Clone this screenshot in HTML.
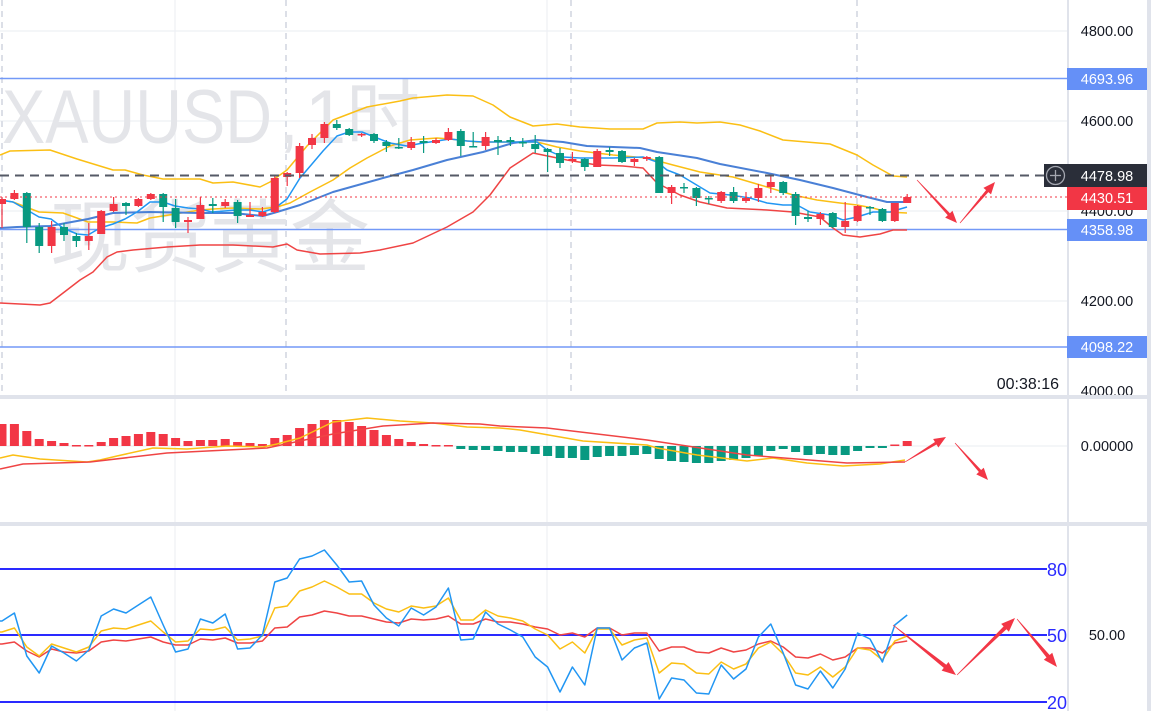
<!DOCTYPE html>
<html><head><meta charset="utf-8"><style>
html,body{margin:0;padding:0;background:#fff;}
svg{display:block;font-family:"Liberation Sans","Noto Sans CJK SC",sans-serif;}
</style></head><body>
<svg width="1151" height="711" viewBox="0 0 1151 711" xmlns="http://www.w3.org/2000/svg">
<rect x="0" y="0" width="1151" height="711" fill="#ffffff"/>
<!-- grid -->
<g stroke="#eef0f4" stroke-width="1.2">
<line x1="0" y1="31" x2="1067" y2="31"/><line x1="0" y1="121" x2="1067" y2="121"/>
<line x1="0" y1="211" x2="1067" y2="211"/><line x1="0" y1="301" x2="1067" y2="301"/>
<line x1="0" y1="446" x2="1067" y2="446"/>
<line x1="175" y1="0" x2="175" y2="711"/><line x1="547" y1="0" x2="547" y2="711"/>
</g>
<g stroke="#dcdfe7" stroke-width="2" stroke-dasharray="6 5">
<line x1="2" y1="0" x2="2" y2="395"/><line x1="286" y1="0" x2="286" y2="395"/>
<line x1="571" y1="0" x2="571" y2="395"/><line x1="857" y1="0" x2="857" y2="395"/>
</g>
<!-- watermark -->
<g fill="#e4e5e9">
<text x="2" y="143" font-size="76" textLength="270" lengthAdjust="spacingAndGlyphs">XAUUSD</text>
<text x="278" y="143" font-size="76">,</text>
<text x="305" y="143" font-size="76" textLength="115" lengthAdjust="spacingAndGlyphs">1时</text>
<text x="50" y="266" font-size="80" textLength="320" lengthAdjust="spacingAndGlyphs">现货黄金</text>
</g>
<!-- horizontal level lines -->
<g stroke="#7399f7" stroke-width="1.5">
<line x1="0" y1="78.5" x2="1067" y2="78.5"/>
<line x1="0" y1="229.5" x2="1067" y2="229.5"/>
<line x1="0" y1="347" x2="1067" y2="347"/>
</g>
<!-- indicator lines main -->
<g fill="none" stroke-width="1.5" stroke-linejoin="round">
<polyline stroke="#fbbf14" points="0,155 10,151 50,150 77,159 113,170 125,170 143,175 163,179 200,179 213,183 233,182 260,187 270,182 287,170 307,146 333,120 367,107 400,101 413,98 447,95 473,96 493,105 510,117 533,126 557,124 580,127 610,129 643,129 657,123 680,122 697,123 720,122 740,125 760,131 783,140 830,144 857,155 873,165 893,176 907,177"/>
<polyline stroke="#fbbf14" points="0,200 13,202 26,207 39,212 63,213 77,218 88,222 113,222 137,223 150,218 175,214 200,210 213,209 233,208 260,209 277,207 290,203 310,192 333,180 350,168 367,158 390,146 410,140 437,138 450,139 477,142 500,142 513,142 537,142 557,147 580,151 613,155 647,158 673,165 700,172 733,177 767,187 793,195 817,200 840,203 857,205 873,208 887,212 907,213"/>
<polyline stroke="#4a80d6" stroke-width="2" points="0,228 17,227 50,226 88,219 113,213 150,212 200,213 233,213 263,216 277,212 300,205 333,192 383,178 413,170 447,160 483,152 513,143 537,140 563,142 587,146 640,148 657,152 697,158 720,164 767,173 800,180 833,188 867,197 887,202 907,202"/>
<polyline stroke="#2196f3" points="0,200 13,202 27,210 39,217 51,219 63,228 77,234 88,235 100,228 113,224 125,219 137,212 150,202 163,202 175,206 188,208 200,209 212,212 225,211 237,210 250,210 263,212 275,208 287,199 300,178 312,164 323,151 337,136 349,132 362,132 377,138 390,143 407,146 423,143 437,141 450,139 467,141 483,142 513,142 537,142 547,150 563,157 580,158 613,158 643,157 657,162 667,170 680,175 700,187 710,193 730,195 750,198 767,203 783,205 797,205 810,212 830,215 843,220 857,217 873,212 890,212 907,207"/>
<polyline stroke="#ef4444" points="0,303 40,305 50,303 67,290 80,280 93,272 107,257 117,252 133,250 167,247 200,245 233,245 273,247 287,244 297,250 320,254 360,253 380,250 413,243 447,227 473,212 490,195 510,168 533,153 567,160 597,165 623,166 643,168 657,183 680,195 700,202 727,208 767,210 793,212 820,217 833,228 843,235 860,237 880,234 893,230 907,230"/>
</g>
<!-- red candles -->
<g fill="#f23645">
<rect x="1.4" y="197" width="1.2" height="31"/><rect x="-2" y="199" width="8" height="5"/>
<rect x="13.8" y="190" width="1.2" height="10"/><rect x="10.4" y="193" width="8" height="6"/>
<rect x="51" y="221" width="1.2" height="32"/><rect x="47.6" y="227" width="8" height="19"/>
<rect x="88.2" y="223" width="1.2" height="27"/><rect x="84.8" y="236" width="8" height="5"/>
<rect x="100.6" y="210" width="1.2" height="24"/><rect x="97.2" y="211" width="8" height="23"/>
<rect x="113" y="197" width="1.2" height="15"/><rect x="109.6" y="204" width="8" height="7"/>
<rect x="137.8" y="198" width="1.2" height="9"/><rect x="134.4" y="199" width="8" height="7"/>
<rect x="150.2" y="193" width="1.2" height="7"/><rect x="146.8" y="194" width="8" height="5"/>
<rect x="187.4" y="217" width="1.2" height="16"/><rect x="184" y="220" width="8" height="2"/>
<rect x="199.8" y="197" width="1.2" height="22"/><rect x="196.4" y="205" width="8" height="14"/>
<rect x="224.6" y="199" width="1.2" height="9"/><rect x="221.2" y="202" width="8" height="4"/>
<rect x="249.4" y="202" width="1.2" height="15"/><rect x="246" y="215" width="8" height="2"/>
<rect x="261.8" y="207" width="1.2" height="10"/><rect x="258.4" y="212" width="8" height="4"/>
<rect x="274.2" y="175" width="1.2" height="38"/><rect x="270.8" y="178" width="8" height="34"/>
<rect x="286.6" y="172" width="1.2" height="14"/><rect x="283.2" y="173" width="8" height="4"/>
<rect x="299" y="143" width="1.2" height="35"/><rect x="295.6" y="146" width="8" height="27"/>
<rect x="311.4" y="134" width="1.2" height="15"/><rect x="308" y="138" width="8" height="7"/>
<rect x="323.8" y="122" width="1.2" height="21"/><rect x="320.4" y="124" width="8" height="14"/>
<rect x="361" y="133" width="1.2" height="4"/><rect x="357.6" y="134" width="8" height="1.5"/>
<rect x="410.6" y="137" width="1.2" height="13"/><rect x="407.2" y="142" width="8" height="6"/>
<rect x="435.4" y="138" width="1.2" height="6"/><rect x="432" y="140" width="8" height="3"/>
<rect x="447.8" y="128" width="1.2" height="13"/><rect x="444.4" y="132" width="8" height="8"/>
<rect x="485" y="132" width="1.2" height="18"/><rect x="481.6" y="137" width="8" height="9"/>
<rect x="571.8" y="152" width="1.2" height="11"/><rect x="568.4" y="159" width="8" height="2"/>
<rect x="596.6" y="149" width="1.2" height="18"/><rect x="593.2" y="151" width="8" height="16"/>
<rect x="633.8" y="158" width="1.2" height="8"/><rect x="630.4" y="159" width="8" height="3"/>
<rect x="646.2" y="156" width="1.2" height="5"/><rect x="642.8" y="157" width="8" height="2"/>
<rect x="671" y="185" width="1.2" height="19"/><rect x="667.6" y="187" width="8" height="6"/>
<rect x="720.6" y="191" width="1.2" height="12"/><rect x="717.2" y="192" width="8" height="9"/>
<rect x="745.4" y="192" width="1.2" height="11"/><rect x="742" y="198" width="8" height="3"/>
<rect x="757.8" y="184" width="1.2" height="18"/><rect x="754.4" y="188" width="8" height="10"/>
<rect x="770.2" y="176" width="1.2" height="17"/><rect x="766.8" y="182" width="8" height="5"/>
<rect x="819.8" y="212" width="1.2" height="13"/><rect x="816.4" y="214" width="8" height="5"/>
<rect x="844.6" y="202" width="1.2" height="31"/><rect x="841.2" y="221" width="8" height="6"/>
<rect x="857" y="205" width="1.2" height="17"/><rect x="853.6" y="206" width="8" height="15"/>
<rect x="894.2" y="203" width="1.2" height="19"/><rect x="890.8" y="203" width="8" height="18"/>
<rect x="906.6" y="194" width="1.2" height="9"/><rect x="903.2" y="197" width="8" height="6"/>
</g>
<!-- green candles -->
<g fill="#089981">
<rect x="26.2" y="192" width="1.2" height="51"/><rect x="22.8" y="193" width="8" height="34"/>
<rect x="38.6" y="223" width="1.2" height="30"/><rect x="35.2" y="227" width="8" height="19"/>
<rect x="63.4" y="223" width="1.2" height="18"/><rect x="60" y="227" width="8" height="8"/>
<rect x="75.8" y="233" width="1.2" height="14"/><rect x="72.4" y="236" width="8" height="5"/>
<rect x="125.4" y="202" width="1.2" height="13"/><rect x="122" y="203" width="8" height="3"/>
<rect x="162.6" y="193" width="1.2" height="29"/><rect x="159.2" y="194" width="8" height="13"/>
<rect x="175" y="199" width="1.2" height="29"/><rect x="171.6" y="208" width="8" height="14"/>
<rect x="212.2" y="198" width="1.2" height="15"/><rect x="208.8" y="204" width="8" height="2"/>
<rect x="237" y="200" width="1.2" height="23"/><rect x="233.6" y="202" width="8" height="14"/>
<rect x="336.2" y="120" width="1.2" height="10"/><rect x="332.8" y="124" width="8" height="4"/>
<rect x="348.6" y="128" width="1.2" height="8"/><rect x="345.2" y="129" width="8" height="6"/>
<rect x="373.4" y="133" width="1.2" height="10"/><rect x="370" y="134" width="8" height="7"/>
<rect x="385.8" y="140" width="1.2" height="12"/><rect x="382.4" y="142" width="8" height="4"/>
<rect x="398.2" y="138" width="1.2" height="11"/><rect x="394.8" y="147" width="8" height="1.5"/>
<rect x="423" y="136" width="1.2" height="17"/><rect x="419.6" y="141" width="8" height="2"/>
<rect x="460.2" y="129" width="1.2" height="27"/><rect x="456.8" y="131" width="8" height="15"/>
<rect x="472.6" y="132" width="1.2" height="15"/><rect x="469.2" y="146" width="8" height="1.5"/>
<rect x="497.4" y="136" width="1.2" height="19"/><rect x="494" y="140" width="8" height="2"/>
<rect x="509.8" y="137" width="1.2" height="9"/><rect x="506.4" y="140" width="8" height="2"/>
<rect x="522.2" y="138" width="1.2" height="9"/><rect x="518.8" y="142" width="8" height="1.5"/>
<rect x="534.6" y="135" width="1.2" height="18"/><rect x="531.2" y="144" width="8" height="5"/>
<rect x="547" y="148" width="1.2" height="24"/><rect x="543.6" y="149" width="8" height="3"/>
<rect x="559.4" y="148" width="1.2" height="20"/><rect x="556" y="153" width="8" height="10"/>
<rect x="584.2" y="158" width="1.2" height="13"/><rect x="580.8" y="159" width="8" height="8"/>
<rect x="609" y="147" width="1.2" height="9"/><rect x="605.6" y="150" width="8" height="2"/>
<rect x="621.4" y="150" width="1.2" height="13"/><rect x="618" y="151" width="8" height="11"/>
<rect x="658.6" y="156" width="1.2" height="37"/><rect x="655.2" y="157" width="8" height="36"/>
<rect x="683.4" y="183" width="1.2" height="10"/><rect x="680" y="187" width="8" height="1.5"/>
<rect x="695.8" y="187" width="1.2" height="19"/><rect x="692.4" y="188" width="8" height="10"/>
<rect x="708.2" y="196" width="1.2" height="8"/><rect x="704.8" y="198" width="8" height="1.5"/>
<rect x="733" y="187" width="1.2" height="16"/><rect x="729.6" y="192" width="8" height="9"/>
<rect x="782.6" y="181" width="1.2" height="14"/><rect x="779.2" y="182" width="8" height="11"/>
<rect x="795" y="192" width="1.2" height="33"/><rect x="791.6" y="194" width="8" height="22"/>
<rect x="807.4" y="211" width="1.2" height="11"/><rect x="804" y="217" width="8" height="2"/>
<rect x="832.2" y="212" width="1.2" height="16"/><rect x="828.8" y="213" width="8" height="14"/>
<rect x="869.4" y="206" width="1.2" height="9"/><rect x="866" y="207" width="8" height="1.5"/>
<rect x="881.8" y="208" width="1.2" height="14"/><rect x="878.4" y="209" width="8" height="12"/>
</g>
<!-- price lines -->
<line x1="0" y1="175.5" x2="1044" y2="175.5" stroke="#555a66" stroke-width="2" stroke-dasharray="9 6"/>
<line x1="0" y1="197" x2="1067" y2="197" stroke="#f23645" stroke-width="1" stroke-dasharray="2 3"/>
<!-- arrows main -->
<g fill="#f23645">
<polygon points="916.78,180.2 947.73,215.24 945.17,217.63 957,223 952.49,210.81 949.93,213.2 917.22,179.8"/>
<polygon points="960.23,223.19 988.35,192.1 991.02,194.38 995,182 983.4,187.88 986.07,190.16 959.77,222.81"/>
</g>
<!-- MACD bars -->
<g fill="#f23645">
<rect x="-2.5" y="424" width="9" height="22"/><rect x="9.9" y="424" width="9" height="22"/><rect x="22.3" y="431" width="9" height="15"/><rect x="34.7" y="439" width="9" height="7"/><rect x="47.1" y="441" width="9" height="5"/><rect x="59.5" y="443" width="9" height="3"/><rect x="71.9" y="445" width="9" height="1.5"/><rect x="84.3" y="445" width="9" height="1.5"/><rect x="96.7" y="442" width="9" height="4"/><rect x="109.1" y="438" width="9" height="8"/><rect x="121.5" y="436" width="9" height="10"/><rect x="133.9" y="434" width="9" height="12"/><rect x="146.3" y="432" width="9" height="14"/><rect x="158.7" y="434" width="9" height="12"/><rect x="171.1" y="438" width="9" height="8"/><rect x="183.5" y="441" width="9" height="5"/><rect x="195.9" y="440" width="9" height="6"/><rect x="208.3" y="440" width="9" height="6"/><rect x="220.7" y="439" width="9" height="7"/><rect x="233.1" y="442" width="9" height="4"/><rect x="245.5" y="443" width="9" height="3"/><rect x="257.9" y="444" width="9" height="2"/><rect x="270.3" y="438" width="9" height="8"/><rect x="282.7" y="435" width="9" height="11"/><rect x="295.1" y="428" width="9" height="18"/><rect x="307.5" y="424" width="9" height="22"/><rect x="319.9" y="420" width="9" height="26"/><rect x="332.3" y="420" width="9" height="26"/><rect x="344.7" y="422" width="9" height="24"/><rect x="357.1" y="426" width="9" height="20"/><rect x="369.5" y="430" width="9" height="16"/><rect x="381.9" y="435" width="9" height="11"/><rect x="394.3" y="439" width="9" height="7"/><rect x="406.7" y="442" width="9" height="4"/><rect x="419.1" y="444" width="9" height="2"/><rect x="431.5" y="445" width="9" height="1.5"/><rect x="443.9" y="445" width="9" height="1.5"/><rect x="890.3" y="444.5" width="9" height="1.5"/><rect x="902.7" y="441" width="9" height="5"/>
</g>
<g fill="#089981">
<rect x="456.3" y="446" width="9" height="3"/><rect x="468.7" y="446" width="9" height="4"/><rect x="481.1" y="446" width="9" height="4"/><rect x="493.5" y="446" width="9" height="5"/><rect x="505.9" y="446" width="9" height="6"/><rect x="518.3" y="446" width="9" height="6"/><rect x="530.7" y="446" width="9" height="8"/><rect x="543.1" y="446" width="9" height="10"/><rect x="555.5" y="446" width="9" height="12"/><rect x="567.9" y="446" width="9" height="12"/><rect x="580.3" y="446" width="9" height="14"/><rect x="592.7" y="446" width="9" height="11"/><rect x="605.1" y="446" width="9" height="10"/><rect x="617.5" y="446" width="9" height="10"/><rect x="629.9" y="446" width="9" height="9"/><rect x="642.3" y="446" width="9" height="8"/><rect x="654.7" y="446" width="9" height="13"/><rect x="667.1" y="446" width="9" height="15"/><rect x="679.5" y="446" width="9" height="16"/><rect x="691.9" y="446" width="9" height="17"/><rect x="704.3" y="446" width="9" height="17"/><rect x="716.7" y="446" width="9" height="15"/><rect x="729.1" y="446" width="9" height="14"/><rect x="741.5" y="446" width="9" height="12"/><rect x="753.9" y="446" width="9" height="10"/><rect x="766.3" y="446" width="9" height="5"/><rect x="778.7" y="446" width="9" height="3"/><rect x="791.1" y="446" width="9" height="6"/><rect x="803.5" y="446" width="9" height="9"/><rect x="815.9" y="446" width="9" height="8"/><rect x="828.3" y="446" width="9" height="9"/><rect x="840.7" y="446" width="9" height="9"/><rect x="853.1" y="446" width="9" height="5"/><rect x="865.5" y="446" width="9" height="2"/><rect x="877.9" y="446" width="9" height="2"/>
</g>
<g fill="none" stroke-width="1.5" stroke-linejoin="round">
<polyline stroke="#fbbf14" points="0,458 13,455 40,459 87,462 100,460 117,456 153,448 187,449 227,446 263,447 277,444 300,438 333,422 367,418 400,421 433,423 467,427 500,428 520,430 583,441 647,445 657,448 697,455 730,459 747,461 773,458 807,463 843,466 880,464 905,460"/>
<polyline stroke="#ef4444" points="0,469 23,464 90,462 167,453 267,448 333,434 383,426 433,423 480,424 500,426 547,428 647,440 747,455 847,463 905,462"/>
</g>
<g fill="#f23645">
<polygon points="905.16,462.26 936.53,444.53 938.36,447.52 946,437 933.14,438.98 934.97,441.97 904.84,461.74"/>
<polygon points="954.78,443.2 978.89,472.05 976.28,474.38 988,480 983.74,467.72 981.13,470.05 955.22,442.8"/>
</g>
<!-- RSI -->
<g stroke="#2a2aff" stroke-width="2">
<line x1="0" y1="569" x2="1047" y2="569"/><line x1="0" y1="635" x2="1047" y2="635"/><line x1="0" y1="702" x2="1047" y2="702"/>
</g>
<g fill="#2a2aff" font-size="18" text-anchor="end">
<text x="1067" y="576">80</text><text x="1067" y="642">50</text><text x="1067" y="709">20</text>
</g>
<g fill="none" stroke-width="1.5" stroke-linejoin="round">
<polyline stroke="#ef4444" points="0,644 2,644 14.4,642 26.8,651 39.2,657 51.6,649 64,652 76.4,653 88.8,651 101.2,642 113.6,640 126,641 138.4,639 150.8,637 163.2,642 175.6,645 188,645 200.4,639 212.8,640 225.2,638 237.6,643 250,643 262.4,641 274.8,628 287.2,627 299.6,617 312,615 324.4,611 336.8,613 349.2,616 361.6,616 374,619 386.4,622 398.8,623 411.2,619 423.6,620 436,619 448.4,616 460.8,624 473.2,624 485.6,619 498,622 510.4,622 522.8,624 535.2,627 547.6,629 560,635 572.4,633 584.8,637 597.2,628 609.6,628 622,635 634.4,633 646.8,633 659.2,651 671.6,647 684,647 696.4,652 708.8,653 721.2,648 733.6,652 746,650 758.4,644 770.8,641 783.2,647 795.6,657 808,658 820.4,654 832.8,660 845.2,657 857.6,648 870,648 882.4,653 894.8,643 907.2,641"/>
<polyline stroke="#fbbf14" points="0,632 2,632 14.4,628 26.8,647 39.2,656 51.6,644 64,648 76.4,652 88.8,647 101.2,631 113.6,628 126,629 138.4,625 150.8,621 163.2,632 175.6,642 188,641 200.4,629 212.8,630 225.2,627 237.6,640 250,639 262.4,636 274.8,608 287.2,606 299.6,591 312,587 324.4,581 336.8,587 349.2,594 361.6,594 374,603 386.4,609 398.8,612 411.2,606 423.6,608 436,606 448.4,598 460.8,620 473.2,620 485.6,610 498,616 510.4,618 522.8,621 535.2,629 547.6,635 560,649 572.4,642 584.8,653 597.2,629 609.6,629 622,645 634.4,640 646.8,638 659.2,673 671.6,663 684,664 696.4,673 708.8,674 721.2,662 733.6,669 746,664 758.4,648 770.8,642 783.2,654 795.6,673 808,675 820.4,667 832.8,677 845.2,667 857.6,648 870,650 882.4,660 894.8,641 907.2,636"/>
<polyline stroke="#2196f3" points="0,621 2,621 14.4,613 26.8,656 39.2,673 51.6,646 64,653 76.4,661 88.8,650 101.2,616 113.6,609 126,613 138.4,605 150.8,597 163.2,625 175.6,652 188,649 200.4,619 212.8,623 225.2,614 237.6,649 250,648 262.4,635 274.8,582 287.2,578 299.6,559 312,556 324.4,550 336.8,565 349.2,582 361.6,581 374,605 386.4,618 398.8,626 411.2,608 423.6,615 436,607 448.4,588 460.8,640 473.2,639 485.6,612 498,624 510.4,630 522.8,637 535.2,657 547.6,667 560,692 572.4,667 584.8,685 597.2,628 609.6,628 622,660 634.4,648 646.8,643 659.2,699 671.6,678 684,680 696.4,693 708.8,694 721.2,665 733.6,679 746,669 758.4,637 770.8,624 783.2,653 795.6,685 808,689 820.4,671 832.8,688 845.2,669 857.6,633 870,639 882.4,662 894.8,625 907.2,615"/>
</g>
<g fill="#f23645">
<polygon points="892.81,625.23 943.8,667.86 941.62,670.6 956,675 948.46,661.98 946.28,664.72 893.19,624.77"/>
<polygon points="957.21,675.21 1006.42,629.24 1008.88,631.73 1015,618 1001.16,623.89 1003.62,626.38 956.79,674.79"/>
<polygon points="1016.77,619.19 1046.5,657.53 1043.82,659.77 1057,667 1052.26,652.73 1049.58,654.97 1017.23,618.81"/>
</g>
<!-- axis texts -->
<g fill="#131722" font-size="14.5" text-anchor="middle">
<text x="1107" y="36">4800.00</text>
<text x="1107" y="126">4600.00</text>
<text x="1107" y="216">4400.00</text>
<text x="1107" y="306">4200.00</text>
<text x="1107" y="396">4000.00</text>
<text x="1107" y="451">0.00000</text>
<text x="1107" y="640">50.00</text>
</g>
<text x="1059" y="389" fill="#131722" font-size="16" text-anchor="end">00:38:16</text>
<!-- separators and axis borders -->
<rect x="0" y="395" width="1151" height="4" fill="#e0e3eb"/>
<rect x="0" y="522" width="1151" height="4" fill="#e0e3eb"/>
<rect x="1067" y="0" width="2" height="711" fill="#e0e3eb"/>
<rect x="1147" y="0" width="4" height="711" fill="#e0e3eb"/>
<!-- price labels -->
<rect x="1067" y="68" width="80" height="22" fill="#6590f7"/>
<text x="1107" y="84" fill="#ffffff" font-size="14.5" text-anchor="middle">4693.96</text>
<rect x="1044" y="164" width="103" height="23" fill="#2a2e39"/>
<circle cx="1055.5" cy="175.5" r="9" fill="none" stroke="#a3a6af" stroke-width="1.3"/>
<line x1="1050" y1="175.5" x2="1061" y2="175.5" stroke="#a3a6af" stroke-width="1.3"/>
<line x1="1055.5" y1="170" x2="1055.5" y2="181" stroke="#a3a6af" stroke-width="1.3"/>
<text x="1107" y="181" fill="#ffffff" font-size="14.5" text-anchor="middle">4478.98</text>
<rect x="1067" y="187" width="80" height="23" fill="#f23645"/>
<text x="1107" y="203" fill="#ffffff" font-size="14.5" text-anchor="middle">4430.51</text>
<rect x="1067" y="219" width="80" height="22" fill="#6590f7"/>
<text x="1107" y="235" fill="#ffffff" font-size="14.5" text-anchor="middle">4358.98</text>
<rect x="1067" y="336" width="80" height="22" fill="#6590f7"/>
<text x="1107" y="352" fill="#ffffff" font-size="14.5" text-anchor="middle">4098.22</text>
</svg>
</body></html>
